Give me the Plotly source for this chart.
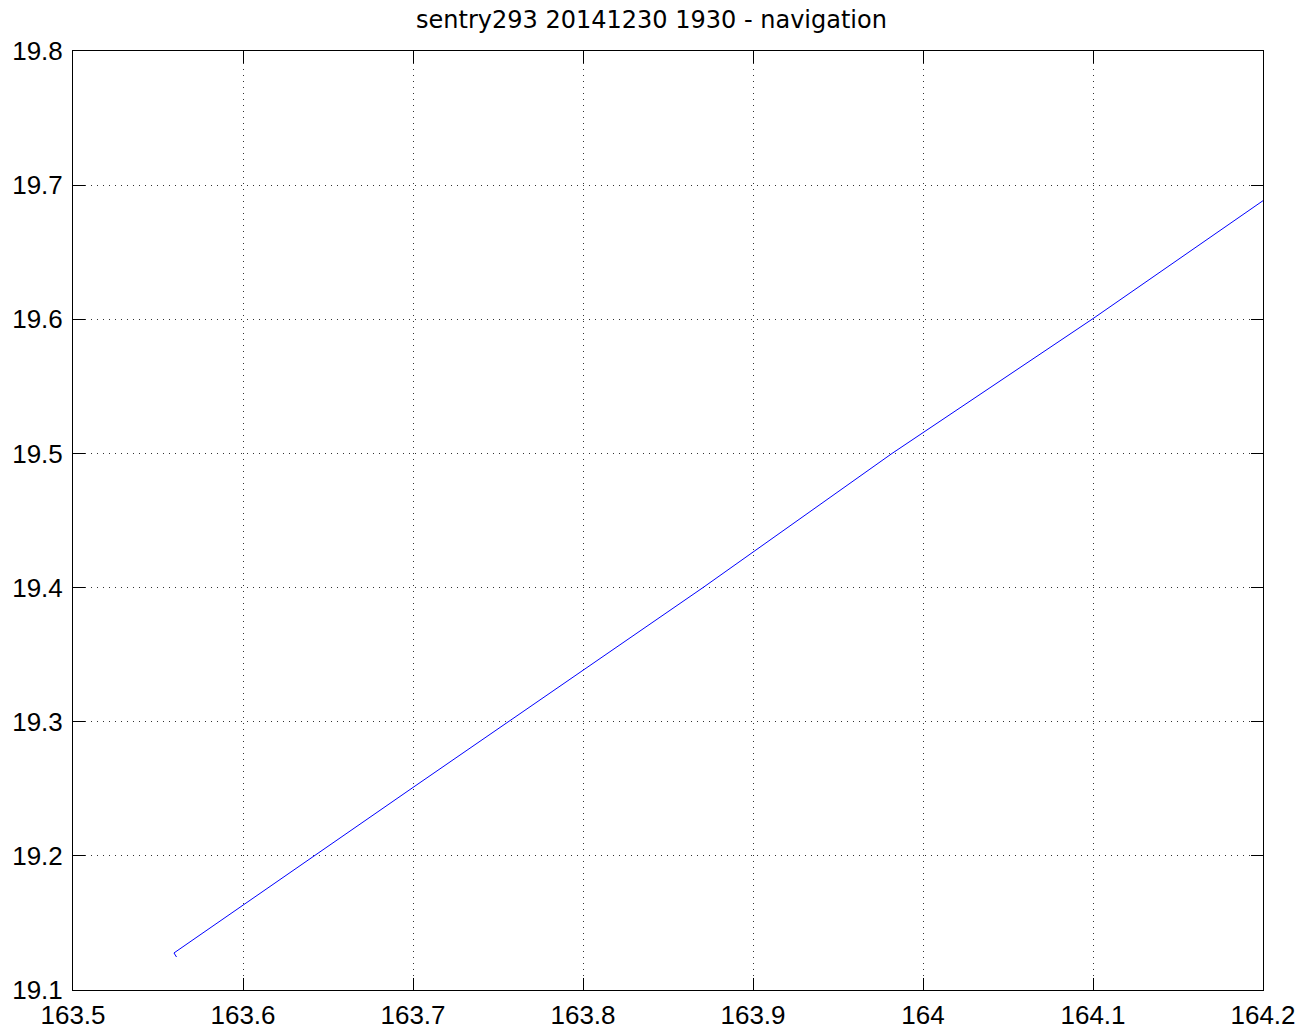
import plotly.graph_objects as go

# Navigation track (lon, lat)
lon = [163.5609, 163.5594, 163.7000, 163.8706, 163.9818, 164.1000, 164.2000]
lat = [19.1246, 19.1276, 19.2510, 19.4000, 19.5000, 19.6005, 19.6884]

x_ticks = [163.5, 163.6, 163.7, 163.8, 163.9, 164.0, 164.1, 164.2]
x_labels = ["163.5", "163.6", "163.7", "163.8", "163.9", "164", "164.1", "164.2"]
y_ticks = [19.1, 19.2, 19.3, 19.4, 19.5, 19.6, 19.7, 19.8]
y_labels = ["19.1", "19.2", "19.3", "19.4", "19.5", "19.6", "19.7", "19.8"]

title_text = "sentry293 20141230 1930 - navigation"

fig = go.Figure()
fig.add_trace(go.Scatter(x=lon, y=lat, mode="lines",
                         line=dict(color="#0000ff", width=1), showlegend=False))

axis_common = dict(
    showline=True, linecolor="black", linewidth=1, mirror="ticks",
    ticks="inside", ticklen=12, tickcolor="black", tickwidth=1,
    showgrid=True, gridcolor="#333333", griddash="1px,5px", gridwidth=1,
    zeroline=False, automargin=False,
    tickfont=dict(family="Liberation Sans, Arial, sans-serif", size=26, color="black"),
)

fig.update_xaxes(range=[163.5, 164.2], tickvals=x_ticks, ticktext=x_labels,
                 ticklabelstandoff=2, **axis_common)
fig.update_yaxes(range=[19.1, 19.8], tickvals=y_ticks, ticktext=y_labels,
                 ticklabelstandoff=4, **axis_common)

fig.update_layout(
    width=1303, height=1032,
    margin=dict(l=73, r=40, t=51, b=42),
    paper_bgcolor="white", plot_bgcolor="white",
    title=dict(text=title_text, x=0.5, xanchor="center", y=0.981, yanchor="middle",
               font=dict(family="DejaVu Sans, sans-serif", size=24, color="black")),
)

fig.write_html("out.html", config={"displayModeBar": False},
               post_script="document.body.style.margin='0';")
